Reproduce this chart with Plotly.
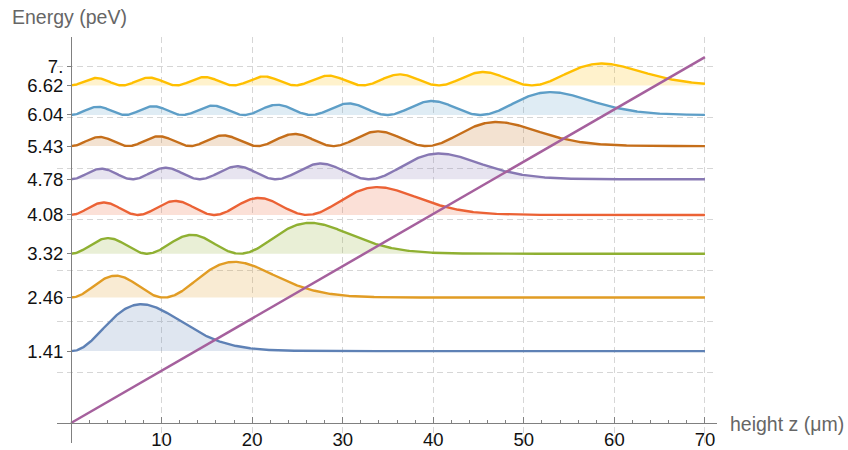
import numpy as np
import plotly.graph_objects as go

# Gravitational quantum states of a neutron above a mirror
energies = [1.41, 2.46, 3.32, 4.08, 4.78, 5.43, 6.04, 6.62]   # peV
colors = ["#5E81B5", "#E19C24", "#8FB032", "#EB6235",
          "#8778B3", "#C56E1A", "#5D9EC7", "#FFBF00"]
potential_color = "#A5609D"
mg = 0.1025          # peV per micrometre
z0 = 5.87            # characteristic length, micrometre
density_scale = 9.25 # peV per (1/micrometre) of probability density
z_max = 70.0
x_ticks = [10, 20, 30, 40, 50, 60, 70]
y_grid = [1, 2, 3, 4, 5, 6, 7]
y_tick_vals = energies + [7]
y_tick_text = ["1.41", "2.46", "3.32", "4.08", "4.78", "5.43", "6.04", "6.62", "7."]


def airy_ai(x):
    """Airy function Ai via power series, asymptotic form for large x."""
    x = np.asarray(x, dtype=float)
    c1 = 0.355028053887817
    c2 = 0.258819403792807
    x3 = x ** 3
    tf = np.ones_like(x)
    tg = x.copy()
    f = tf.copy()
    g = tg.copy()
    for k in range(1, 90):
        tf = tf * x3 / ((3 * k - 1) * (3 * k))
        tg = tg * x3 / ((3 * k) * (3 * k + 1))
        f += tf
        g += tg
    ai = c1 * f - c2 * g
    big = x > 5
    xb = x[big]
    ai[big] = np.exp(-2.0 / 3.0 * xb ** 1.5) / (2 * np.sqrt(np.pi) * xb ** 0.25)
    return ai


z = np.linspace(0, z_max, 801)
z_fine = np.linspace(0, 200, 20001)

fig = go.Figure()
for E, col in zip(energies, colors):
    zt = E / mg
    norm = np.trapezoid(airy_ai((z_fine - zt) / z0) ** 2, z_fine)
    dens = airy_ai((z - zt) / z0) ** 2 / norm
    r, g_, b = (int(col[i:i + 2], 16) for i in (1, 3, 5))
    fig.add_trace(go.Scatter(x=z, y=np.full_like(z, E), mode="lines",
                             line=dict(width=0, color=col), hoverinfo="skip"))
    fig.add_trace(go.Scatter(x=z, y=E + density_scale * dens, mode="lines",
                             line=dict(color=col, width=2.4),
                             fill="tonexty",
                             fillcolor=f"rgba({r},{g_},{b},0.2)"))

# Linear gravitational potential V = m g z
fig.add_trace(go.Scatter(x=[0, z_max], y=[0, mg * z_max], mode="lines",
                         line=dict(color=potential_color, width=2.5),
                         yaxis="y2"))

x_range = [-1.546, 71.33]
y_range = [-0.392, 7.569]
axis_col = "#808080"
grid_col = "#d6d6d6"
font_family = "Liberation Sans, Arial, sans-serif"
tick_font = dict(family=font_family, size=18.5, color="#111")
label_font = dict(family=font_family, size=19.5, color="#666666")

fig.update_layout(
    width=848, height=450,
    margin=dict(l=57, r=131, t=37, b=7, autoexpand=False),
    plot_bgcolor="white", paper_bgcolor="white",
    showlegend=False,
    xaxis=dict(range=x_range, anchor="free", automargin=False,
               position=0.392 / (y_range[1] - y_range[0]),
               showline=True, linecolor=axis_col, linewidth=1,
               tickvals=x_ticks, ticks="inside", ticklen=6, tickcolor=axis_col,
               minor=dict(dtick=2, tick0=0, ticks="inside", ticklen=3,
                          tickcolor=axis_col, showgrid=False),
               showgrid=True, gridcolor=grid_col, griddash="6px,4px", gridwidth=1,
               zeroline=False, tickfont=tick_font),
    yaxis=dict(range=y_range, tickvals=y_grid, showticklabels=False, ticks="",
               automargin=False,
               showgrid=True, gridcolor=grid_col, griddash="6px,4px", gridwidth=1,
               zeroline=False, showline=False),
    yaxis2=dict(range=y_range, overlaying="y", anchor="free", automargin=False,
                position=1.546 / (x_range[1] - x_range[0]),
                showline=True, linecolor=axis_col, linewidth=1,
                tickvals=y_tick_vals, ticktext=y_tick_text,
                ticks="outside", ticklen=4, tickcolor=axis_col,
                showgrid=False, zeroline=False, tickfont=tick_font),
    annotations=[
        dict(text="Energy (peV)", xref="paper", yref="paper",
             x=-0.0712, y=1.049, xanchor="left", yanchor="middle",
             showarrow=False, font=label_font),
        dict(text="height z (μm)", xref="paper", yref="paper",
             x=1.0167, y=0.0468, xanchor="left", yanchor="middle",
             showarrow=False, font=label_font),
    ],
)

fig.write_html("out.html")
